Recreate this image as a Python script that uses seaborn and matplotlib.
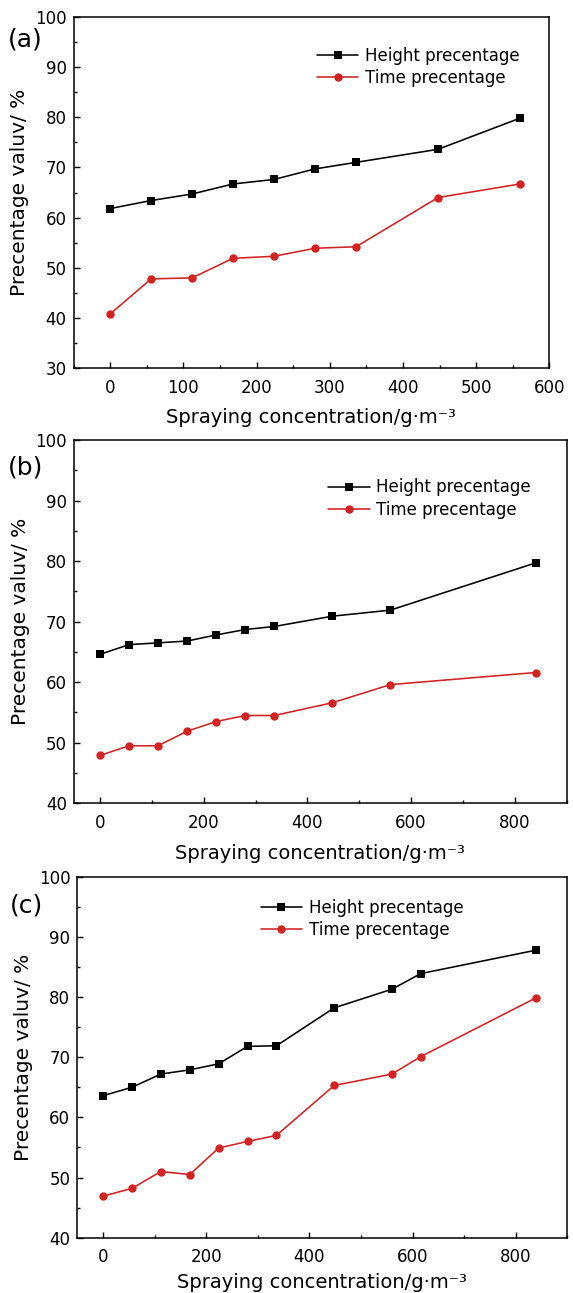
import matplotlib
matplotlib.use("Agg")
import matplotlib.pyplot as plt
import numpy as np
import pandas as pd
import seaborn as sns
from matplotlib.ticker import MultipleLocator

# Spraying concentration (g/m^3) and measured percentages for the three cases
conc_a = [0, 56, 112, 168, 224, 280, 336, 448, 560]
height_a = [61.8, 63.4, 64.7, 66.7, 67.6, 69.7, 71.0, 73.6, 79.8]
time_a = [40.8, 47.8, 48.0, 51.9, 52.3, 53.9, 54.2, 64.0, 66.7]

conc_b = [0, 56, 112, 168, 224, 280, 336, 448, 560, 840]
height_b = [64.6, 66.2, 66.5, 66.8, 67.8, 68.7, 69.2, 70.9, 71.9, 79.7]
time_b = [47.9, 49.5, 49.5, 51.9, 53.5, 54.5, 54.5, 56.6, 59.6, 61.6]

conc_c = [0, 56, 112, 168, 224, 280, 336, 448, 560, 616, 840]
height_c = [63.6, 65.0, 67.2, 67.9, 68.9, 71.8, 71.9, 78.2, 81.3, 83.9, 87.8]
time_c = [46.9, 48.2, 51.0, 50.5, 54.9, 56.0, 57.0, 65.3, 67.2, 70.1, 79.9]

series_names = ["Height precentage", "Time precentage"]
panel_tags = ["(a)", "(b)", "(c)"]
x_label = "Spraying concentration/g\u00b7m\u207b\u00b3"
y_label = "Precentage valuv/ %"

sns.set_style("ticks")
plt.rcParams.update({
    "font.family": ["DejaVu Sans"],
    "text.color": "black",
    "axes.labelcolor": "black",
    "axes.edgecolor": "black",
    "xtick.color": "black",
    "ytick.color": "black",
})

W, H = 573, 1293
fig = plt.figure(figsize=(W / 100, H / 100), dpi=100)

RED = "#d22222"


def px_rect(left, top, right, bottom):
    return [left / W, 1 - bottom / H, (right - left) / W, (bottom - top) / H]


panels = [
    dict(conc=conc_a, height=height_a, time=time_a,
         rect=px_rect(73.5, 16.7, 549.3, 368.3),
         xlim=(-50, 600), ylim=(30, 100), xminor=50,
         xticks=np.arange(0, 601, 100),
         leg=(316.7, 67.0), tag=(25, 39), labelpad_x=8),
    dict(conc=conc_b, height=height_b, time=time_b,
         rect=px_rect(74.0, 440.0, 566.7, 803.3),
         xlim=(-50, 900), ylim=(40, 100), xminor=100,
         xticks=np.arange(0, 801, 200),
         leg=(328.0, 498.5), tag=(26, 467), labelpad_x=9),
    dict(conc=conc_c, height=height_c, time=time_c,
         rect=px_rect(77.3, 876.7, 567.3, 1237.7),
         xlim=(-50, 900), ylim=(40, 100), xminor=100,
         xticks=np.arange(0, 801, 200),
         leg=(260.6, 919.0), tag=(26, 905), labelpad_x=5),
]

for p, tag in zip(panels, panel_tags):
    ax = fig.add_axes(p["rect"])
    df = pd.DataFrame({"conc": p["conc"], "height": p["height"], "time": p["time"]})
    sns.lineplot(data=df, x="conc", y="height", ax=ax, color="black",
                 marker="s", markersize=5.4, markeredgewidth=0, linewidth=1.15,
                 label=series_names[0])
    sns.lineplot(data=df, x="conc", y="time", ax=ax, color=RED,
                 marker="o", markersize=6.0, markeredgewidth=0, linewidth=1.15,
                 label=series_names[1])

    ax.set_xlim(*p["xlim"])
    ax.set_ylim(*p["ylim"])
    ax.set_xticks(p["xticks"])
    ax.set_yticks(np.arange(p["ylim"][0], 101, 10))
    ax.xaxis.set_minor_locator(MultipleLocator(p["xminor"]))
    ax.yaxis.set_minor_locator(MultipleLocator(5))
    ax.tick_params(axis="both", which="both", direction="in",
                   top=False, right=False, labelsize=12, width=1.0)
    ax.tick_params(axis="both", which="major", length=4)
    ax.tick_params(axis="both", which="minor", length=2.2)
    ax.tick_params(axis="y", which="major", pad=5)
    ax.tick_params(axis="x", which="major", pad=7.5)
    for s in ax.spines.values():
        s.set_visible(True)
        s.set_linewidth(1.1)
        s.set_color("black")

    ax.set_xlabel(x_label, fontsize=14, labelpad=p["labelpad_x"])
    ax.set_ylabel(y_label, fontsize=14.5, labelpad=4)

    lx, ly = p["leg"]
    ax.legend(loc="center left", bbox_to_anchor=(lx / W, 1 - ly / H),
              bbox_transform=fig.transFigure, frameon=False, fontsize=12,
              handlelength=2.5, handletextpad=0.4, labelspacing=0.25,
              borderpad=0, borderaxespad=0)

    fig.text(p["tag"][0] / W, 1 - p["tag"][1] / H, tag, fontsize=18,
             ha="center", va="center")

fig.savefig("out.png", dpi=100)
